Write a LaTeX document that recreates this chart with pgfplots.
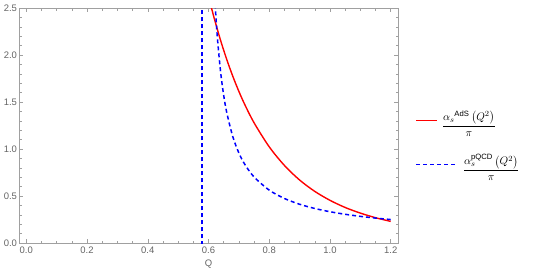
\documentclass[border=0pt]{standalone}
\usepackage{pgfplots}
\pgfplotsset{compat=1.18}
\usepackage{amsmath}
\usepackage{fontspec}
\setmainfont{Liberation Sans}
\definecolor{framegray}{RGB}{160,160,160}
\definecolor{labgray}{RGB}{100,100,100}
\begin{document}
\begin{tikzpicture}[x=1bp,y=1bp]
\useasboundingbox (-19bp,-36bp) rectangle (518bp,243bp);
\begin{axis}[
  at={(0,0)}, anchor=south west,
  scale only axis, width=379bp, height=235bp,
  xmin=-0.024, xmax=1.224, ymin=0, ymax=2.5,
  xtick={0,0.2,0.4,0.6,0.8,1.0,1.2},
  ytick={0,0.5,1.0,1.5,2.0,2.5},
  minor x tick num=3, minor y tick num=4,
  tick pos=both, tick align=inside,
  major tick length=4bp, minor tick length=2.5bp,
  every tick/.style={framegray, line width=0.5bp},
  axis line style={framegray, line width=0.6bp},
  /pgf/number format/fixed, /pgf/number format/fixed zerofill, /pgf/number format/precision=1,
  /pgf/number format/assume math mode=true,
  tick label style={font=\fontsize{9.5}{11}\selectfont, text=labgray},
  xticklabel style={yshift=-0.5bp},
  yticklabel style={xshift=1.5bp},
  xlabel={Q}, xlabel style={font=\fontsize{9.5}{11}\selectfont, text=labgray, yshift=1bp},
  legend style={draw=none, fill=none, at={(1.045,0.426)}, anchor=west,
    font=\fontsize{11}{13}\selectfont, row sep=20bp, inner sep=0pt,
    nodes={inner xsep=4bp}},
  legend cell align=left,
  clip=true,
]
\addplot[red, line width=1.4bp, smooth, legend image code/.code={\draw[red, line width=1.6bp] (0bp,0.3bp) -- (21bp,0.3bp);}] coordinates {
(0.605,2.57) (0.61,2.499) (0.62,2.377) (0.64,2.153) (0.66,1.953) (0.68,1.774) (0.70,1.613) (0.72,1.469) (0.75,1.279) (0.80,1.023) (0.85,0.825) (0.90,0.670) (0.95,0.549) (1.00,0.454) (1.05,0.378) (1.10,0.318) (1.15,0.269) (1.20,0.230)
};
\addlegendentry{$\dfrac{\alpha_s{}^{\text{AdS}}\left(Q^2\right)}{\pi}$}
\addplot[blue, line width=1.5bp, smooth, dash pattern=on 4bp off 3bp, legend image code/.code={\draw[blue, line width=1.5bp, dash pattern=on 4bp off 3bp, overlay] (0bp,0bp) -- (39bp,0bp); \path (0bp,0bp) -- (21bp,0bp);}] coordinates {
(0.622,2.538) (0.625,2.378) (0.63,2.154) (0.64,1.815) (0.65,1.572) (0.66,1.389) (0.68,1.131) (0.70,0.958) (0.72,0.834) (0.75,0.7026) (0.80,0.5624) (0.85,0.4736) (0.90,0.4122) (0.95,0.3672) (1.00,0.3327) (1.05,0.3055) (1.10,0.2833) (1.15,0.2650) (1.20,0.2495)
};
\addlegendentry{\rule{21bp}{0pt}$\dfrac{\alpha_s^{\text{pQCD}}\left(Q^2\right)}{\pi}$}
\addplot[blue, line width=1.5bp, dash pattern=on 4bp off 3bp, forget plot] coordinates {(0.579,-0.1) (0.579,2.6)};
\end{axis}
\end{tikzpicture}
\end{document}
